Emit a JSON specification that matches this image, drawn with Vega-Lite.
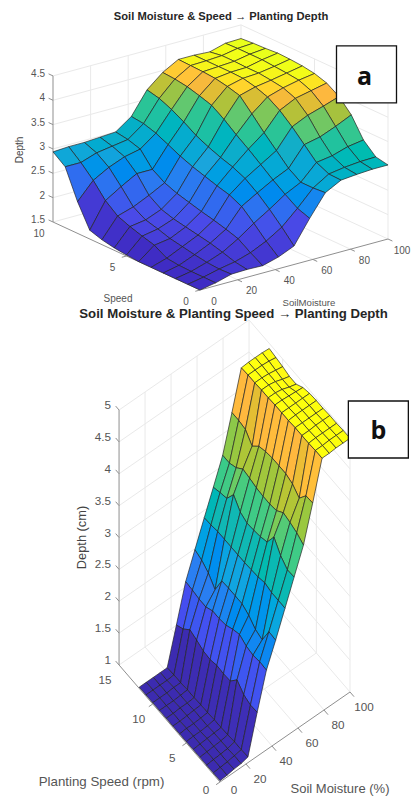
{"$schema":"https://vega.github.io/schema/vega-lite/v6.json","width":414,"height":797,"padding":0,"autosize":{"type":"fit","contains":"padding"},"background":"white","config":{"view":{"stroke":null},"text":{"font":"Liberation Sans"}},
"datasets":{
"labels":[
{"p":"a","kind":"z","label":"1.5","soil":0,"speed":10,"depth":1.5},{"p":"a","kind":"z","label":"2","soil":0,"speed":10,"depth":2},{"p":"a","kind":"z","label":"2.5","soil":0,"speed":10,"depth":2.5},{"p":"a","kind":"z","label":"3","soil":0,"speed":10,"depth":3},{"p":"a","kind":"z","label":"3.5","soil":0,"speed":10,"depth":3.5},{"p":"a","kind":"z","label":"4","soil":0,"speed":10,"depth":4},{"p":"a","kind":"z","label":"4.5","soil":0,"speed":10,"depth":4.5},
{"p":"a","kind":"speed","label":"0","soil":0,"speed":0,"depth":1.5},{"p":"a","kind":"speed","label":"5","soil":0,"speed":5,"depth":1.5},{"p":"a","kind":"speed","label":"10","soil":0,"speed":10,"depth":1.5},
{"p":"a","kind":"soil","label":"0","soil":0,"speed":0,"depth":1.5},{"p":"a","kind":"soil","label":"20","soil":20,"speed":0,"depth":1.5},{"p":"a","kind":"soil","label":"40","soil":40,"speed":0,"depth":1.5},{"p":"a","kind":"soil","label":"60","soil":60,"speed":0,"depth":1.5},{"p":"a","kind":"soil","label":"80","soil":80,"speed":0,"depth":1.5},{"p":"a","kind":"soil","label":"100","soil":100,"speed":0,"depth":1.5},
{"p":"b","kind":"z","label":"1","soil":0,"speed":15,"depth":1},{"p":"b","kind":"z","label":"1.5","soil":0,"speed":15,"depth":1.5},{"p":"b","kind":"z","label":"2","soil":0,"speed":15,"depth":2},{"p":"b","kind":"z","label":"2.5","soil":0,"speed":15,"depth":2.5},{"p":"b","kind":"z","label":"3","soil":0,"speed":15,"depth":3},{"p":"b","kind":"z","label":"3.5","soil":0,"speed":15,"depth":3.5},{"p":"b","kind":"z","label":"4","soil":0,"speed":15,"depth":4},{"p":"b","kind":"z","label":"4.5","soil":0,"speed":15,"depth":4.5},{"p":"b","kind":"z","label":"5","soil":0,"speed":15,"depth":5},
{"p":"b","kind":"speed","label":"0","soil":0,"speed":0,"depth":1},{"p":"b","kind":"speed","label":"5","soil":0,"speed":5,"depth":1},{"p":"b","kind":"speed","label":"10","soil":0,"speed":10,"depth":1},{"p":"b","kind":"speed","label":"15","soil":0,"speed":15,"depth":1},
{"p":"b","kind":"soil","label":"0","soil":0,"speed":0,"depth":1},{"p":"b","kind":"soil","label":"20","soil":20,"speed":0,"depth":1},{"p":"b","kind":"soil","label":"40","soil":40,"speed":0,"depth":1},{"p":"b","kind":"soil","label":"60","soil":60,"speed":0,"depth":1},{"p":"b","kind":"soil","label":"80","soil":80,"speed":0,"depth":1},{"p":"b","kind":"soil","label":"100","soil":100,"speed":0,"depth":1},
{"p":"a","kind":"title","label":"Soil Moisture & Speed → Planting Depth","soil":100,"speed":10,"depth":4.5},
{"p":"b","kind":"title","label":"Soil Moisture & Planting Speed → Planting Depth","soil":100,"speed":15,"depth":5},
{"p":"a","kind":"ztitle","label":"Depth","soil":0,"speed":10,"depth":3},
{"p":"b","kind":"ztitle","label":"Depth (cm)","soil":0,"speed":15,"depth":3},
{"p":"a","kind":"stitle","label":"Speed","soil":0,"speed":5,"depth":1.5},
{"p":"b","kind":"stitle","label":"Planting Speed (rpm)","soil":0,"speed":7.5,"depth":1},
{"p":"a","kind":"mtitle","label":"SoilMoisture","soil":50,"speed":0,"depth":1.5},
{"p":"b","kind":"mtitle","label":"Soil Moisture (%)","soil":50,"speed":0,"depth":1},
{"p":"a","kind":"tag","label":"a","soil":100,"speed":5,"depth":4.5},
{"p":"b","kind":"tag","label":"b","soil":100,"speed":5,"depth":5}
],
"lines":[
{"p":"a","k":"g","s1":0,"r1":10,"z1":1.5,"s2":100,"r2":10,"z2":1.5},{"p":"a","k":"g","s1":0,"r1":10,"z1":2,"s2":100,"r2":10,"z2":2},{"p":"a","k":"g","s1":0,"r1":10,"z1":2.5,"s2":100,"r2":10,"z2":2.5},{"p":"a","k":"g","s1":0,"r1":10,"z1":3,"s2":100,"r2":10,"z2":3},{"p":"a","k":"g","s1":0,"r1":10,"z1":3.5,"s2":100,"r2":10,"z2":3.5},{"p":"a","k":"g","s1":0,"r1":10,"z1":4,"s2":100,"r2":10,"z2":4},{"p":"a","k":"g","s1":0,"r1":10,"z1":4.5,"s2":100,"r2":10,"z2":4.5},
{"p":"a","k":"g","s1":100,"r1":10,"z1":1.5,"s2":100,"r2":0,"z2":1.5},{"p":"a","k":"g","s1":100,"r1":10,"z1":2,"s2":100,"r2":0,"z2":2},{"p":"a","k":"g","s1":100,"r1":10,"z1":2.5,"s2":100,"r2":0,"z2":2.5},{"p":"a","k":"g","s1":100,"r1":10,"z1":3,"s2":100,"r2":0,"z2":3},{"p":"a","k":"g","s1":100,"r1":10,"z1":3.5,"s2":100,"r2":0,"z2":3.5},{"p":"a","k":"g","s1":100,"r1":10,"z1":4,"s2":100,"r2":0,"z2":4},{"p":"a","k":"g","s1":100,"r1":10,"z1":4.5,"s2":100,"r2":0,"z2":4.5},
{"p":"a","k":"g","s1":20,"r1":10,"z1":1.5,"s2":20,"r2":10,"z2":4.5},{"p":"a","k":"g","s1":40,"r1":10,"z1":1.5,"s2":40,"r2":10,"z2":4.5},{"p":"a","k":"g","s1":60,"r1":10,"z1":1.5,"s2":60,"r2":10,"z2":4.5},{"p":"a","k":"g","s1":80,"r1":10,"z1":1.5,"s2":80,"r2":10,"z2":4.5},{"p":"a","k":"g","s1":100,"r1":10,"z1":1.5,"s2":100,"r2":10,"z2":4.5},{"p":"a","k":"g","s1":100,"r1":5,"z1":1.5,"s2":100,"r2":5,"z2":4.5},{"p":"a","k":"g","s1":100,"r1":0,"z1":1.5,"s2":100,"r2":0,"z2":4.5},
{"p":"a","k":"g","s1":20,"r1":0,"z1":1.5,"s2":20,"r2":10,"z2":1.5},{"p":"a","k":"g","s1":40,"r1":0,"z1":1.5,"s2":40,"r2":10,"z2":1.5},{"p":"a","k":"g","s1":60,"r1":0,"z1":1.5,"s2":60,"r2":10,"z2":1.5},{"p":"a","k":"g","s1":80,"r1":0,"z1":1.5,"s2":80,"r2":10,"z2":1.5},{"p":"a","k":"g","s1":0,"r1":5,"z1":1.5,"s2":100,"r2":5,"z2":1.5},
{"p":"a","k":"x","s1":0,"r1":0,"z1":1.5,"s2":0,"r2":10,"z2":1.5},{"p":"a","k":"x","s1":0,"r1":0,"z1":1.5,"s2":100,"r2":0,"z2":1.5},{"p":"a","k":"x","s1":0,"r1":10,"z1":1.5,"s2":0,"r2":10,"z2":1.5},
{"p":"a","k":"x","s1":0,"r1":10,"z1":1.5,"s2":0,"r2":10.3,"z2":1.5},{"p":"a","k":"x","s1":0,"r1":10,"z1":2,"s2":0,"r2":10.3,"z2":2},{"p":"a","k":"x","s1":0,"r1":10,"z1":2.5,"s2":0,"r2":10.3,"z2":2.5},{"p":"a","k":"x","s1":0,"r1":10,"z1":3,"s2":0,"r2":10.3,"z2":3},{"p":"a","k":"x","s1":0,"r1":10,"z1":3.5,"s2":0,"r2":10.3,"z2":3.5},{"p":"a","k":"x","s1":0,"r1":10,"z1":4,"s2":0,"r2":10.3,"z2":4},{"p":"a","k":"x","s1":0,"r1":10,"z1":4.5,"s2":0,"r2":10.3,"z2":4.5},
{"p":"a","k":"x","s1":0,"r1":0,"z1":1.5,"s2":-2.5,"r2":0,"z2":1.5},{"p":"a","k":"x","s1":0,"r1":5,"z1":1.5,"s2":-2.5,"r2":5,"z2":1.5},{"p":"a","k":"x","s1":20,"r1":0,"z1":1.5,"s2":20,"r2":-0.3,"z2":1.5},{"p":"a","k":"x","s1":40,"r1":0,"z1":1.5,"s2":40,"r2":-0.3,"z2":1.5},{"p":"a","k":"x","s1":60,"r1":0,"z1":1.5,"s2":60,"r2":-0.3,"z2":1.5},{"p":"a","k":"x","s1":80,"r1":0,"z1":1.5,"s2":80,"r2":-0.3,"z2":1.5},{"p":"a","k":"x","s1":100,"r1":0,"z1":1.5,"s2":100,"r2":-0.3,"z2":1.5},
{"p":"a","k":"x","s1":0,"r1":10,"z1":1.5,"s2":0,"r2":10,"z2":4.5},
{"p":"b","k":"g","s1":0,"r1":15,"z1":1,"s2":100,"r2":15,"z2":1},{"p":"b","k":"g","s1":0,"r1":15,"z1":1.5,"s2":100,"r2":15,"z2":1.5},{"p":"b","k":"g","s1":0,"r1":15,"z1":2,"s2":100,"r2":15,"z2":2},{"p":"b","k":"g","s1":0,"r1":15,"z1":2.5,"s2":100,"r2":15,"z2":2.5},{"p":"b","k":"g","s1":0,"r1":15,"z1":3,"s2":100,"r2":15,"z2":3},{"p":"b","k":"g","s1":0,"r1":15,"z1":3.5,"s2":100,"r2":15,"z2":3.5},{"p":"b","k":"g","s1":0,"r1":15,"z1":4,"s2":100,"r2":15,"z2":4},{"p":"b","k":"g","s1":0,"r1":15,"z1":4.5,"s2":100,"r2":15,"z2":4.5},{"p":"b","k":"g","s1":0,"r1":15,"z1":5,"s2":100,"r2":15,"z2":5},
{"p":"b","k":"g","s1":100,"r1":15,"z1":1,"s2":100,"r2":0,"z2":1},{"p":"b","k":"g","s1":100,"r1":15,"z1":1.5,"s2":100,"r2":0,"z2":1.5},{"p":"b","k":"g","s1":100,"r1":15,"z1":2,"s2":100,"r2":0,"z2":2},{"p":"b","k":"g","s1":100,"r1":15,"z1":2.5,"s2":100,"r2":0,"z2":2.5},{"p":"b","k":"g","s1":100,"r1":15,"z1":3,"s2":100,"r2":0,"z2":3},{"p":"b","k":"g","s1":100,"r1":15,"z1":3.5,"s2":100,"r2":0,"z2":3.5},{"p":"b","k":"g","s1":100,"r1":15,"z1":4,"s2":100,"r2":0,"z2":4},{"p":"b","k":"g","s1":100,"r1":15,"z1":4.5,"s2":100,"r2":0,"z2":4.5},{"p":"b","k":"g","s1":100,"r1":15,"z1":5,"s2":100,"r2":0,"z2":5},
{"p":"b","k":"g","s1":20,"r1":15,"z1":1,"s2":20,"r2":15,"z2":5},{"p":"b","k":"g","s1":40,"r1":15,"z1":1,"s2":40,"r2":15,"z2":5},{"p":"b","k":"g","s1":60,"r1":15,"z1":1,"s2":60,"r2":15,"z2":5},{"p":"b","k":"g","s1":80,"r1":15,"z1":1,"s2":80,"r2":15,"z2":5},{"p":"b","k":"g","s1":100,"r1":15,"z1":1,"s2":100,"r2":15,"z2":5},{"p":"b","k":"g","s1":100,"r1":10,"z1":1,"s2":100,"r2":10,"z2":5},{"p":"b","k":"g","s1":100,"r1":5,"z1":1,"s2":100,"r2":5,"z2":5},{"p":"b","k":"g","s1":100,"r1":0,"z1":1,"s2":100,"r2":0,"z2":5},
{"p":"b","k":"g","s1":20,"r1":0,"z1":1,"s2":20,"r2":15,"z2":1},{"p":"b","k":"g","s1":40,"r1":0,"z1":1,"s2":40,"r2":15,"z2":1},{"p":"b","k":"g","s1":60,"r1":0,"z1":1,"s2":60,"r2":15,"z2":1},{"p":"b","k":"g","s1":80,"r1":0,"z1":1,"s2":80,"r2":15,"z2":1},{"p":"b","k":"g","s1":0,"r1":5,"z1":1,"s2":100,"r2":5,"z2":1},{"p":"b","k":"g","s1":0,"r1":10,"z1":1,"s2":100,"r2":10,"z2":1},
{"p":"b","k":"x","s1":0,"r1":0,"z1":1,"s2":0,"r2":15,"z2":1},{"p":"b","k":"x","s1":0,"r1":0,"z1":1,"s2":100,"r2":0,"z2":1},{"p":"b","k":"x","s1":0,"r1":15,"z1":1,"s2":0,"r2":15,"z2":5},
{"p":"b","k":"x","s1":0,"r1":15,"z1":1,"s2":0,"r2":15.5,"z2":1},{"p":"b","k":"x","s1":0,"r1":15,"z1":1.5,"s2":0,"r2":15.5,"z2":1.5},{"p":"b","k":"x","s1":0,"r1":15,"z1":2,"s2":0,"r2":15.5,"z2":2},{"p":"b","k":"x","s1":0,"r1":15,"z1":2.5,"s2":0,"r2":15.5,"z2":2.5},{"p":"b","k":"x","s1":0,"r1":15,"z1":3,"s2":0,"r2":15.5,"z2":3},{"p":"b","k":"x","s1":0,"r1":15,"z1":3.5,"s2":0,"r2":15.5,"z2":3.5},{"p":"b","k":"x","s1":0,"r1":15,"z1":4,"s2":0,"r2":15.5,"z2":4},{"p":"b","k":"x","s1":0,"r1":15,"z1":4.5,"s2":0,"r2":15.5,"z2":4.5},{"p":"b","k":"x","s1":0,"r1":15,"z1":5,"s2":0,"r2":15.5,"z2":5},
{"p":"b","k":"x","s1":0,"r1":0,"z1":1,"s2":-3,"r2":0,"z2":1},{"p":"b","k":"x","s1":0,"r1":5,"z1":1,"s2":-3,"r2":5,"z2":1},{"p":"b","k":"x","s1":0,"r1":10,"z1":1,"s2":-3,"r2":10,"z2":1},{"p":"b","k":"x","s1":20,"r1":0,"z1":1,"s2":20,"r2":-0.6,"z2":1},{"p":"b","k":"x","s1":40,"r1":0,"z1":1,"s2":40,"r2":-0.6,"z2":1},{"p":"b","k":"x","s1":60,"r1":0,"z1":1,"s2":60,"r2":-0.6,"z2":1},{"p":"b","k":"x","s1":80,"r1":0,"z1":1,"s2":80,"r2":-0.6,"z2":1},{"p":"b","k":"x","s1":100,"r1":0,"z1":1,"s2":100,"r2":-0.6,"z2":1}
],
"surfaceA":[
{"soil":100,"speed":10,"depth":4.22},{"soil":100,"speed":9.17,"depth":4.24},{"soil":100,"speed":8.33,"depth":4.25},{"soil":100,"speed":7.5,"depth":4.27},{"soil":100,"speed":6.67,"depth":4.26},{"soil":100,"speed":5.83,"depth":4.24},{"soil":100,"speed":5,"depth":4.2},{"soil":100,"speed":4.17,"depth":4.12},{"soil":100,"speed":3.33,"depth":3.96},{"soil":100,"speed":2.5,"depth":3.7},{"soil":100,"speed":1.67,"depth":3.3},{"soil":100,"speed":0.83,"depth":3.07},{"soil":100,"speed":0,"depth":3.02},
{"soil":91.67,"speed":10,"depth":4.21},{"soil":91.67,"speed":9.17,"depth":4.22},{"soil":91.67,"speed":8.33,"depth":4.22},{"soil":91.67,"speed":7.5,"depth":4.22},{"soil":91.67,"speed":6.67,"depth":4.2},{"soil":91.67,"speed":5.83,"depth":4.18},{"soil":91.67,"speed":5,"depth":4.15},{"soil":91.67,"speed":4.17,"depth":4.05},{"soil":91.67,"speed":3.33,"depth":3.85},{"soil":91.67,"speed":2.5,"depth":3.55},{"soil":91.67,"speed":1.67,"depth":3.25},{"soil":91.67,"speed":0.83,"depth":3.06},{"soil":91.67,"speed":0,"depth":3.02},
{"soil":83.33,"speed":10,"depth":4.12},{"soil":83.33,"speed":9.17,"depth":4.16},{"soil":83.33,"speed":8.33,"depth":4.16},{"soil":83.33,"speed":7.5,"depth":4.15},{"soil":83.33,"speed":6.67,"depth":4.15},{"soil":83.33,"speed":5.83,"depth":4.12},{"soil":83.33,"speed":5,"depth":4.08},{"soil":83.33,"speed":4.17,"depth":3.98},{"soil":83.33,"speed":3.33,"depth":3.75},{"soil":83.33,"speed":2.5,"depth":3.42},{"soil":83.33,"speed":1.67,"depth":3.15},{"soil":83.33,"speed":0.83,"depth":3.03},{"soil":83.33,"speed":0,"depth":3},
{"soil":75,"speed":10,"depth":4.14},{"soil":75,"speed":9.17,"depth":4.14},{"soil":75,"speed":8.33,"depth":4.14},{"soil":75,"speed":7.5,"depth":4.14},{"soil":75,"speed":6.67,"depth":4.13},{"soil":75,"speed":5.83,"depth":4.07},{"soil":75,"speed":5,"depth":3.98},{"soil":75,"speed":4.17,"depth":3.82},{"soil":75,"speed":3.33,"depth":3.6},{"soil":75,"speed":2.5,"depth":3.35},{"soil":75,"speed":1.67,"depth":3.1},{"soil":75,"speed":0.83,"depth":2.98},{"soil":75,"speed":0,"depth":2.97},
{"soil":66.67,"speed":10,"depth":4.14},{"soil":66.67,"speed":9.17,"depth":4.13},{"soil":66.67,"speed":8.33,"depth":4.12},{"soil":66.67,"speed":7.5,"depth":4.1},{"soil":66.67,"speed":6.67,"depth":4.05},{"soil":66.67,"speed":5.83,"depth":3.98},{"soil":66.67,"speed":5,"depth":3.72},{"soil":66.67,"speed":4.17,"depth":3.45},{"soil":66.67,"speed":3.33,"depth":3.2},{"soil":66.67,"speed":2.5,"depth":2.95},{"soil":66.67,"speed":1.67,"depth":2.78},{"soil":66.67,"speed":0.83,"depth":2.78},{"soil":66.67,"speed":0,"depth":2.8},
{"soil":58.33,"speed":10,"depth":3.96},{"soil":58.33,"speed":9.17,"depth":3.94},{"soil":58.33,"speed":8.33,"depth":3.9},{"soil":58.33,"speed":7.5,"depth":3.83},{"soil":58.33,"speed":6.67,"depth":3.75},{"soil":58.33,"speed":5.83,"depth":3.58},{"soil":58.33,"speed":5,"depth":3.38},{"soil":58.33,"speed":4.17,"depth":3.2},{"soil":58.33,"speed":3.33,"depth":3},{"soil":58.33,"speed":2.5,"depth":2.8},{"soil":58.33,"speed":1.67,"depth":2.62},{"soil":58.33,"speed":0.83,"depth":2.45},{"soil":58.33,"speed":0,"depth":2.36},
{"soil":50,"speed":10,"depth":3.69},{"soil":50,"speed":9.17,"depth":3.63},{"soil":50,"speed":8.33,"depth":3.52},{"soil":50,"speed":7.5,"depth":3.38},{"soil":50,"speed":6.67,"depth":3.22},{"soil":50,"speed":5.83,"depth":3.1},{"soil":50,"speed":5,"depth":3},{"soil":50,"speed":4.17,"depth":2.92},{"soil":50,"speed":3.33,"depth":2.8},{"soil":50,"speed":2.5,"depth":2.62},{"soil":50,"speed":1.67,"depth":2.4},{"soil":50,"speed":0.83,"depth":2.15},{"soil":50,"speed":0,"depth":1.88},
{"soil":41.67,"speed":10,"depth":3.23},{"soil":41.67,"speed":9.17,"depth":3.2},{"soil":41.67,"speed":8.33,"depth":3.12},{"soil":41.67,"speed":7.5,"depth":3},{"soil":41.67,"speed":6.67,"depth":2.88},{"soil":41.67,"speed":5.83,"depth":2.78},{"soil":41.67,"speed":5,"depth":2.7},{"soil":41.67,"speed":4.17,"depth":2.62},{"soil":41.67,"speed":3.33,"depth":2.55},{"soil":41.67,"speed":2.5,"depth":2.43},{"soil":41.67,"speed":1.67,"depth":2.2},{"soil":41.67,"speed":0.83,"depth":1.95},{"soil":41.67,"speed":0,"depth":1.74},
{"soil":33.33,"speed":10,"depth":3},{"soil":33.33,"speed":9.17,"depth":2.96},{"soil":33.33,"speed":8.33,"depth":2.88},{"soil":33.33,"speed":7.5,"depth":2.58},{"soil":33.33,"speed":6.67,"depth":2.42},{"soil":33.33,"speed":5.83,"depth":2.32},{"soil":33.33,"speed":5,"depth":2.25},{"soil":33.33,"speed":4.17,"depth":2.18},{"soil":33.33,"speed":3.33,"depth":2.12},{"soil":33.33,"speed":2.5,"depth":2.05},{"soil":33.33,"speed":1.67,"depth":1.97},{"soil":33.33,"speed":0.83,"depth":1.8},{"soil":33.33,"speed":0,"depth":1.65},
{"soil":25,"speed":10,"depth":2.98},{"soil":25,"speed":9.17,"depth":2.91},{"soil":25,"speed":8.33,"depth":2.81},{"soil":25,"speed":7.5,"depth":2.58},{"soil":25,"speed":6.67,"depth":2.25},{"soil":25,"speed":5.83,"depth":2.08},{"soil":25,"speed":5,"depth":2},{"soil":25,"speed":4.17,"depth":1.95},{"soil":25,"speed":3.33,"depth":1.9},{"soil":25,"speed":2.5,"depth":1.85},{"soil":25,"speed":1.67,"depth":1.78},{"soil":25,"speed":0.83,"depth":1.7},{"soil":25,"speed":0,"depth":1.66},
{"soil":16.67,"speed":10,"depth":2.96},{"soil":16.67,"speed":9.17,"depth":2.86},{"soil":16.67,"speed":8.33,"depth":2.68},{"soil":16.67,"speed":7.5,"depth":2.4},{"soil":16.67,"speed":6.67,"depth":2.1},{"soil":16.67,"speed":5.83,"depth":1.95},{"soil":16.67,"speed":5,"depth":1.88},{"soil":16.67,"speed":4.17,"depth":1.8},{"soil":16.67,"speed":3.33,"depth":1.75},{"soil":16.67,"speed":2.5,"depth":1.7},{"soil":16.67,"speed":1.67,"depth":1.66},{"soil":16.67,"speed":0.83,"depth":1.64},{"soil":16.67,"speed":0,"depth":1.65},
{"soil":8.33,"speed":10,"depth":2.96},{"soil":8.33,"speed":9.17,"depth":2.75},{"soil":8.33,"speed":8.33,"depth":2.5},{"soil":8.33,"speed":7.5,"depth":2.2},{"soil":8.33,"speed":6.67,"depth":2},{"soil":8.33,"speed":5.83,"depth":1.9},{"soil":8.33,"speed":5,"depth":1.82},{"soil":8.33,"speed":4.17,"depth":1.75},{"soil":8.33,"speed":3.33,"depth":1.6},{"soil":8.33,"speed":2.5,"depth":1.57},{"soil":8.33,"speed":1.67,"depth":1.56},{"soil":8.33,"speed":0.83,"depth":1.56},{"soil":8.33,"speed":0,"depth":1.56},
{"soil":0,"speed":10,"depth":2.94},{"soil":0,"speed":9.17,"depth":2.75},{"soil":0,"speed":8.33,"depth":2.15},{"soil":0,"speed":7.5,"depth":1.68},{"soil":0,"speed":6.67,"depth":1.6},{"soil":0,"speed":5.83,"depth":1.55},{"soil":0,"speed":5,"depth":1.52},{"soil":0,"speed":4.17,"depth":1.5},{"soil":0,"speed":3.33,"depth":1.5},{"soil":0,"speed":2.5,"depth":1.5},{"soil":0,"speed":1.67,"depth":1.5},{"soil":0,"speed":0.83,"depth":1.5},{"soil":0,"speed":0,"depth":1.5}
],
"surfaceB":[
{"soil":100,"speed":12,"depth":4.92},{"soil":100,"speed":11,"depth":4.9},{"soil":100,"speed":10,"depth":4.88},{"soil":100,"speed":9,"depth":4.85},{"soil":100,"speed":8,"depth":4.85},{"soil":100,"speed":7,"depth":4.92},{"soil":100,"speed":6,"depth":4.95},{"soil":100,"speed":5,"depth":4.96},{"soil":100,"speed":4,"depth":4.96},{"soil":100,"speed":3,"depth":4.97},{"soil":100,"speed":2,"depth":4.97},{"soil":100,"speed":1,"depth":4.98},{"soil":100,"speed":0,"depth":4.98},
{"soil":94.6,"speed":12,"depth":4.93},{"soil":94.6,"speed":11,"depth":4.92},{"soil":94.6,"speed":10,"depth":4.9},{"soil":94.6,"speed":9,"depth":4.88},{"soil":94.6,"speed":8,"depth":4.88},{"soil":94.6,"speed":7,"depth":4.93},{"soil":94.6,"speed":6,"depth":4.95},{"soil":94.6,"speed":5,"depth":4.96},{"soil":94.6,"speed":4,"depth":4.96},{"soil":94.6,"speed":3,"depth":4.97},{"soil":94.6,"speed":2,"depth":4.97},{"soil":94.6,"speed":1,"depth":4.98},{"soil":94.6,"speed":0,"depth":4.98},
{"soil":89.2,"speed":12,"depth":4.93},{"soil":89.2,"speed":11,"depth":4.93},{"soil":89.2,"speed":10,"depth":4.92},{"soil":89.2,"speed":9,"depth":4.92},{"soil":89.2,"speed":8,"depth":4.92},{"soil":89.2,"speed":7,"depth":4.94},{"soil":89.2,"speed":6,"depth":4.95},{"soil":89.2,"speed":5,"depth":4.96},{"soil":89.2,"speed":4,"depth":4.96},{"soil":89.2,"speed":3,"depth":4.97},{"soil":89.2,"speed":2,"depth":4.97},{"soil":89.2,"speed":1,"depth":4.98},{"soil":89.2,"speed":0,"depth":4.98},
{"soil":84,"speed":12,"depth":4.93},{"soil":84,"speed":11,"depth":4.93},{"soil":84,"speed":10,"depth":4.93},{"soil":84,"speed":9,"depth":4.94},{"soil":84,"speed":8,"depth":4.94},{"soil":84,"speed":7,"depth":4.95},{"soil":84,"speed":6,"depth":4.95},{"soil":84,"speed":5,"depth":4.96},{"soil":84,"speed":4,"depth":4.96},{"soil":84,"speed":3,"depth":4.96},{"soil":84,"speed":2,"depth":4.97},{"soil":84,"speed":1,"depth":4.97},{"soil":84,"speed":0,"depth":4.97},
{"soil":78.5,"speed":12,"depth":4.92},{"soil":78.5,"speed":11,"depth":4.93},{"soil":78.5,"speed":10,"depth":4.93},{"soil":78.5,"speed":9,"depth":4.94},{"soil":78.5,"speed":8,"depth":4.94},{"soil":78.5,"speed":7,"depth":4.95},{"soil":78.5,"speed":6,"depth":4.95},{"soil":78.5,"speed":5,"depth":4.95},{"soil":78.5,"speed":4,"depth":4.96},{"soil":78.5,"speed":3,"depth":4.96},{"soil":78.5,"speed":2,"depth":4.96},{"soil":78.5,"speed":1,"depth":4.97},{"soil":78.5,"speed":0,"depth":4.97},
{"soil":71.3,"speed":12,"depth":4.32},{"soil":71.3,"speed":11,"depth":4.32},{"soil":71.3,"speed":10,"depth":4.3},{"soil":71.3,"speed":9,"depth":4.16},{"soil":71.3,"speed":8,"depth":4.28},{"soil":71.3,"speed":7,"depth":4.32},{"soil":71.3,"speed":6,"depth":4.34},{"soil":71.3,"speed":5,"depth":4.34},{"soil":71.3,"speed":4,"depth":4.34},{"soil":71.3,"speed":3,"depth":4.3},{"soil":71.3,"speed":2,"depth":4.2},{"soil":71.3,"speed":1,"depth":4.36},{"soil":71.3,"speed":0,"depth":4.37},
{"soil":64.2,"speed":12,"depth":3.75},{"soil":64.2,"speed":11,"depth":3.75},{"soil":64.2,"speed":10,"depth":3.8},{"soil":64.2,"speed":9,"depth":3.9},{"soil":64.2,"speed":8,"depth":3.88},{"soil":64.2,"speed":7,"depth":3.85},{"soil":64.2,"speed":6,"depth":3.84},{"soil":64.2,"speed":5,"depth":3.84},{"soil":64.2,"speed":4,"depth":3.86},{"soil":64.2,"speed":3,"depth":3.95},{"soil":64.2,"speed":2,"depth":3.92},{"soil":64.2,"speed":1,"depth":3.88},{"soil":64.2,"speed":0,"depth":3.81},
{"soil":57,"speed":12,"depth":3.35},{"soil":57,"speed":11,"depth":3.39},{"soil":57,"speed":10,"depth":3.42},{"soil":57,"speed":9,"depth":3.6},{"soil":57,"speed":8,"depth":3.45},{"soil":57,"speed":7,"depth":3.4},{"soil":57,"speed":6,"depth":3.41},{"soil":57,"speed":5,"depth":3.43},{"soil":57,"speed":4,"depth":3.47},{"soil":57,"speed":3,"depth":3.67},{"soil":57,"speed":2,"depth":3.5},{"soil":57,"speed":1,"depth":3.4},{"soil":57,"speed":0,"depth":3.41},
{"soil":50,"speed":12,"depth":2.97},{"soil":50,"speed":11,"depth":2.98},{"soil":50,"speed":10,"depth":3},{"soil":50,"speed":9,"depth":3},{"soil":50,"speed":8,"depth":3},{"soil":50,"speed":7,"depth":3},{"soil":50,"speed":6,"depth":3},{"soil":50,"speed":5,"depth":3.01},{"soil":50,"speed":4,"depth":3.02},{"soil":50,"speed":3,"depth":3.05},{"soil":50,"speed":2,"depth":3.02},{"soil":50,"speed":1,"depth":3.02},{"soil":50,"speed":0,"depth":3.02},
{"soil":42.8,"speed":12,"depth":2.57},{"soil":42.8,"speed":11,"depth":2.53},{"soil":42.8,"speed":10,"depth":2.45},{"soil":42.8,"speed":9,"depth":2.31},{"soil":42.8,"speed":8,"depth":2.57},{"soil":42.8,"speed":7,"depth":2.58},{"soil":42.8,"speed":6,"depth":2.58},{"soil":42.8,"speed":5,"depth":2.58},{"soil":42.8,"speed":4,"depth":2.52},{"soil":42.8,"speed":3,"depth":2.42},{"soil":42.8,"speed":2,"depth":2.38},{"soil":42.8,"speed":1,"depth":2.63},{"soil":42.8,"speed":0,"depth":2.62},
{"soil":35.7,"speed":12,"depth":2.17},{"soil":35.7,"speed":11,"depth":2.16},{"soil":35.7,"speed":10,"depth":2.14},{"soil":35.7,"speed":9,"depth":2.14},{"soil":35.7,"speed":8,"depth":2.2},{"soil":35.7,"speed":7,"depth":2.2},{"soil":35.7,"speed":6,"depth":2.22},{"soil":35.7,"speed":5,"depth":2.28},{"soil":35.7,"speed":4,"depth":2.32},{"soil":35.7,"speed":3,"depth":2.26},{"soil":35.7,"speed":2,"depth":2.24},{"soil":35.7,"speed":1,"depth":2.26},{"soil":35.7,"speed":0,"depth":2.25},
{"soil":28.6,"speed":12,"depth":1.59},{"soil":28.6,"speed":11,"depth":1.65},{"soil":28.6,"speed":10,"depth":1.76},{"soil":28.6,"speed":9,"depth":1.72},{"soil":28.6,"speed":8,"depth":1.67},{"soil":28.6,"speed":7,"depth":1.66},{"soil":28.6,"speed":6,"depth":1.69},{"soil":28.6,"speed":5,"depth":1.68},{"soil":28.6,"speed":4,"depth":1.69},{"soil":28.6,"speed":3,"depth":1.83},{"soil":28.6,"speed":2,"depth":1.72},{"soil":28.6,"speed":1,"depth":1.68},{"soil":28.6,"speed":0,"depth":1.69},
{"soil":21.5,"speed":12,"depth":1.02},{"soil":21.5,"speed":11,"depth":1.03},{"soil":21.5,"speed":10,"depth":1.03},{"soil":21.5,"speed":9,"depth":1.04},{"soil":21.5,"speed":8,"depth":1.04},{"soil":21.5,"speed":7,"depth":1.05},{"soil":21.5,"speed":6,"depth":1.05},{"soil":21.5,"speed":5,"depth":1.06},{"soil":21.5,"speed":4,"depth":1.06},{"soil":21.5,"speed":3,"depth":1.07},{"soil":21.5,"speed":2,"depth":1.08},{"soil":21.5,"speed":1,"depth":1.08},{"soil":21.5,"speed":0,"depth":1.09},
{"soil":16.2,"speed":12,"depth":1.02},{"soil":16.2,"speed":11,"depth":1.02},{"soil":16.2,"speed":10,"depth":1.03},{"soil":16.2,"speed":9,"depth":1.03},{"soil":16.2,"speed":8,"depth":1.03},{"soil":16.2,"speed":7,"depth":1.04},{"soil":16.2,"speed":6,"depth":1.04},{"soil":16.2,"speed":5,"depth":1.04},{"soil":16.2,"speed":4,"depth":1.05},{"soil":16.2,"speed":3,"depth":1.05},{"soil":16.2,"speed":2,"depth":1.05},{"soil":16.2,"speed":1,"depth":1.06},{"soil":16.2,"speed":0,"depth":1.06},
{"soil":10.8,"speed":12,"depth":1.02},{"soil":10.8,"speed":11,"depth":1.02},{"soil":10.8,"speed":10,"depth":1.02},{"soil":10.8,"speed":9,"depth":1.02},{"soil":10.8,"speed":8,"depth":1.03},{"soil":10.8,"speed":7,"depth":1.03},{"soil":10.8,"speed":6,"depth":1.03},{"soil":10.8,"speed":5,"depth":1.03},{"soil":10.8,"speed":4,"depth":1.04},{"soil":10.8,"speed":3,"depth":1.04},{"soil":10.8,"speed":2,"depth":1.04},{"soil":10.8,"speed":1,"depth":1.04},{"soil":10.8,"speed":0,"depth":1.05},
{"soil":5.4,"speed":12,"depth":1.02},{"soil":5.4,"speed":11,"depth":1.02},{"soil":5.4,"speed":10,"depth":1.02},{"soil":5.4,"speed":9,"depth":1.02},{"soil":5.4,"speed":8,"depth":1.02},{"soil":5.4,"speed":7,"depth":1.02},{"soil":5.4,"speed":6,"depth":1.03},{"soil":5.4,"speed":5,"depth":1.03},{"soil":5.4,"speed":4,"depth":1.03},{"soil":5.4,"speed":3,"depth":1.03},{"soil":5.4,"speed":2,"depth":1.03},{"soil":5.4,"speed":1,"depth":1.03},{"soil":5.4,"speed":0,"depth":1.03},
{"soil":0,"speed":12,"depth":1.02},{"soil":0,"speed":11,"depth":1.02},{"soil":0,"speed":10,"depth":1.02},{"soil":0,"speed":9,"depth":1.02},{"soil":0,"speed":8,"depth":1.02},{"soil":0,"speed":7,"depth":1.02},{"soil":0,"speed":6,"depth":1.02},{"soil":0,"speed":5,"depth":1.02},{"soil":0,"speed":4,"depth":1.02},{"soil":0,"speed":3,"depth":1.02},{"soil":0,"speed":2,"depth":1.02},{"soil":0,"speed":1,"depth":1.02},{"soil":0,"speed":0,"depth":1.02}
]},
"data":{"name":"labels"},
"transform":[
{"calculate":"datum.p=='a'?200+1.88*datum.soil-14.7*datum.speed:220+1.3*datum.soil-6.73*datum.speed","as":"px"},
{"calculate":"datum.p=='a'?290-0.51*datum.soil-6.8*datum.speed-48.7*(datum.depth-1.5):782-0.9*datum.soil-7.8*datum.speed-63.75*(datum.depth-1)","as":"py"}
],
"layer":[
{"data":{"name":"lines"},"transform":[
{"calculate":"datum.p=='a'?200+1.88*datum.s1-14.7*datum.r1:220+1.3*datum.s1-6.73*datum.r1","as":"xa"},
{"calculate":"datum.p=='a'?290-0.51*datum.s1-6.8*datum.r1-48.7*(datum.z1-1.5):782-0.9*datum.s1-7.8*datum.r1-63.75*(datum.z1-1)","as":"ya"},
{"calculate":"datum.p=='a'?200+1.88*datum.s2-14.7*datum.r2:220+1.3*datum.s2-6.73*datum.r2","as":"xb"},
{"calculate":"datum.p=='a'?290-0.51*datum.s2-6.8*datum.r2-48.7*(datum.z2-1.5):782-0.9*datum.s2-7.8*datum.r2-63.75*(datum.z2-1)","as":"yb"}],
"mark":{"type":"rule","strokeWidth":1},
"encoding":{"x":{"field":"xa","type":"quantitative","scale":{"domain":[0,414],"range":[0,414],"nice":false,"zero":false},"axis":null},"y":{"field":"ya","type":"quantitative","scale":{"domain":[0,797],"range":[0,797],"nice":false,"zero":false},"axis":null},"x2":{"field":"xb"},"y2":{"field":"yb"},"stroke":{"field":"k","type":"nominal","scale":{"domain":["g","x"],"range":["#e9e9e9","#8f8f8f"]},"legend":null}}},
{"data":{"name":"surfaceA"},"transform":[
{"window":[{"op":"lag","field":"depth","as":"zs"},{"op":"lag","field":"soil","as":"ps"}],"sort":[{"field":"soil"}],"groupby":["speed"]},
{"window":[{"op":"lag","field":"depth","as":"zr"},{"op":"lag","field":"zs","as":"zrs"},{"op":"lag","field":"speed","as":"pr"}],"sort":[{"field":"speed"}],"groupby":["soil"]},
{"filter":"datum.zrs!=null"},
{"calculate":"{type:'Feature',properties:{},geometry:{type:'Polygon',coordinates:[[[200+1.88*datum.soil-14.7*datum.speed,290-0.51*datum.soil-6.8*datum.speed-48.7*(datum.depth-1.5)],[200+1.88*datum.ps-14.7*datum.speed,290-0.51*datum.ps-6.8*datum.speed-48.7*(datum.zs-1.5)],[200+1.88*datum.ps-14.7*datum.pr,290-0.51*datum.ps-6.8*datum.pr-48.7*(datum.zrs-1.5)],[200+1.88*datum.soil-14.7*datum.pr,290-0.51*datum.soil-6.8*datum.pr-48.7*(datum.zr-1.5)],[200+1.88*datum.soil-14.7*datum.speed,290-0.51*datum.soil-6.8*datum.speed-48.7*(datum.depth-1.5)]]]}}","as":"geo"}],
"projection":{"type":"identity","scale":1,"translate":[0,0]},
"mark":{"type":"geoshape","stroke":"#222222","strokeWidth":0.75,"strokeOpacity":0.9},
"encoding":{"shape":{"field":"geo","type":"geojson"},"fill":{"field":"zrs","type":"quantitative","scale":{"domain":[1.5,1.9,2.3,2.7,2.95,3.1,3.3,3.55,3.85,4.1],"range":["#3f2cc4","#4a4ae8","#2c7ff0","#1aa5dc","#12aec8","#1cc0a4","#3ec888","#a6c23e","#fdb83e","#f8f01c"]},"legend":null}}},
{"data":{"name":"surfaceB"},"transform":[
{"window":[{"op":"lag","field":"depth","as":"zs"},{"op":"lag","field":"soil","as":"ps"}],"sort":[{"field":"soil"}],"groupby":["speed"]},
{"window":[{"op":"lag","field":"depth","as":"zr"},{"op":"lag","field":"zs","as":"zrs"},{"op":"lag","field":"speed","as":"pr"}],"sort":[{"field":"speed"}],"groupby":["soil"]},
{"filter":"datum.zrs!=null"},
{"calculate":"{type:'Feature',properties:{},geometry:{type:'Polygon',coordinates:[[[220+1.3*datum.soil-6.73*datum.speed,782-0.9*datum.soil-7.8*datum.speed-63.75*(datum.depth-1)],[220+1.3*datum.ps-6.73*datum.speed,782-0.9*datum.ps-7.8*datum.speed-63.75*(datum.zs-1)],[220+1.3*datum.ps-6.73*datum.pr,782-0.9*datum.ps-7.8*datum.pr-63.75*(datum.zrs-1)],[220+1.3*datum.soil-6.73*datum.pr,782-0.9*datum.soil-7.8*datum.pr-63.75*(datum.zr-1)],[220+1.3*datum.soil-6.73*datum.speed,782-0.9*datum.soil-7.8*datum.speed-63.75*(datum.depth-1)]]]}}","as":"geo"}],
"projection":{"type":"identity","scale":1,"translate":[0,0]},
"mark":{"type":"geoshape","stroke":"#222222","strokeWidth":0.75,"strokeOpacity":0.9},
"encoding":{"shape":{"field":"geo","type":"geojson"},"fill":{"field":"zrs","type":"quantitative","scale":{"domain":[1.02,1.6,2.17,2.6,3,3.4,3.8,4.3,4.92],"range":["#3c2bb0","#4a48ee","#2a80f2","#18a6e0","#10b8b4","#3ccb88","#98c840","#ffb83e","#ffff10"]},"legend":null}}},
{"transform":[{"filter":"datum.kind=='z'"},{"calculate":"datum.px-8","as":"tx"},{"calculate":"datum.py-(datum.p=='a'?2:5)","as":"ty"}],"mark":{"type":"text","align":"right","baseline":"middle","color":"#555555"},"encoding":{"x":{"field":"tx","type":"quantitative"},"y":{"field":"ty","type":"quantitative"},"text":{"field":"label"},"size":{"field":"p","type":"ordinal","scale":{"domain":["a","b"],"range":[10,11.7]},"legend":null}}},
{"transform":[{"filter":"datum.kind=='speed'||datum.kind=='soil'"},{"calculate":"datum.px+(datum.kind=='speed'?-14:14)","as":"tx"},{"calculate":"min(datum.py+(datum.p=='a'?11.5:14.5),790)","as":"ty"}],"mark":{"type":"text","align":"center","baseline":"middle","color":"#555555"},"encoding":{"x":{"field":"tx","type":"quantitative"},"y":{"field":"ty","type":"quantitative"},"text":{"field":"label"},"size":{"field":"p","type":"ordinal","scale":{"domain":["a","b"],"range":[10,11.7]},"legend":null}}},
{"transform":[{"filter":"datum.kind=='title'"},{"calculate":"datum.px+(datum.p=='a'?-20:-15.5)","as":"tx"},{"calculate":"datum.py+(datum.p=='a'?-7.5:-6)","as":"ty"}],"mark":{"type":"text","align":"center","baseline":"middle","fontWeight":"bold","color":"#262626"},"encoding":{"x":{"field":"tx","type":"quantitative"},"y":{"field":"ty","type":"quantitative"},"text":{"field":"label"},"size":{"field":"p","type":"ordinal","scale":{"domain":["a","b"],"range":[11.2,13.2]},"legend":null}}},
{"transform":[{"filter":"datum.kind=='ztitle'"},{"calculate":"datum.p=='a'?20:82","as":"tx"},{"calculate":"datum.py+(datum.p=='a'?1:0)","as":"ty"}],"mark":{"type":"text","align":"center","baseline":"middle","angle":270,"color":"#444444"},"encoding":{"x":{"field":"tx","type":"quantitative"},"y":{"field":"ty","type":"quantitative"},"text":{"field":"label"},"size":{"field":"p","type":"ordinal","scale":{"domain":["a","b"],"range":[10,12.8]},"legend":null}}},
{"transform":[{"filter":"datum.kind=='stitle'"},{"calculate":"datum.px+(datum.p=='a'?-8.5:-68)","as":"tx"},{"calculate":"datum.py+(datum.p=='a'?43:58)","as":"ty"}],"mark":{"type":"text","align":"center","baseline":"middle","color":"#555555"},"encoding":{"x":{"field":"tx","type":"quantitative"},"y":{"field":"ty","type":"quantitative"},"text":{"field":"label"},"size":{"field":"p","type":"ordinal","scale":{"domain":["a","b"],"range":[10,13.3]},"legend":null}}},
{"transform":[{"filter":"datum.kind=='mtitle'"},{"calculate":"datum.px+(datum.p=='a'?15:55)","as":"tx"},{"calculate":"datum.py+(datum.p=='a'?38:52)","as":"ty"}],"mark":{"type":"text","align":"center","baseline":"middle","color":"#555555"},"encoding":{"x":{"field":"tx","type":"quantitative"},"y":{"field":"ty","type":"quantitative"},"text":{"field":"label"},"size":{"field":"p","type":"ordinal","scale":{"domain":["a","b"],"range":[9.6,13]},"legend":null}}},
{"transform":[{"filter":"datum.kind=='tag'"},{"calculate":"datum.px+(datum.p=='a'?22:32)","as":"xa"},{"calculate":"datum.xa+60","as":"xb"},{"calculate":"datum.py+(datum.p=='a'?-13:3)","as":"ya"},{"calculate":"datum.ya+57","as":"yb"}],"mark":{"type":"rect","fill":"white","stroke":"#111111","strokeWidth":1.3},"encoding":{"x":{"field":"xa","type":"quantitative"},"x2":{"field":"xb"},"y":{"field":"ya","type":"quantitative"},"y2":{"field":"yb"}}},
{"transform":[{"filter":"datum.kind=='tag'"},{"calculate":"datum.px+(datum.p=='a'?50:62)","as":"tx"},{"calculate":"datum.py+(datum.p=='a'?18:33)","as":"ty"}],"mark":{"type":"text","align":"center","baseline":"middle","fontWeight":"bold","fontSize":25,"font":"Open Sans","color":"#111111"},"encoding":{"x":{"field":"tx","type":"quantitative"},"y":{"field":"ty","type":"quantitative"},"text":{"field":"label"}}}
],
"resolve":{"scale":{"fill":"independent","size":"independent"}}}
